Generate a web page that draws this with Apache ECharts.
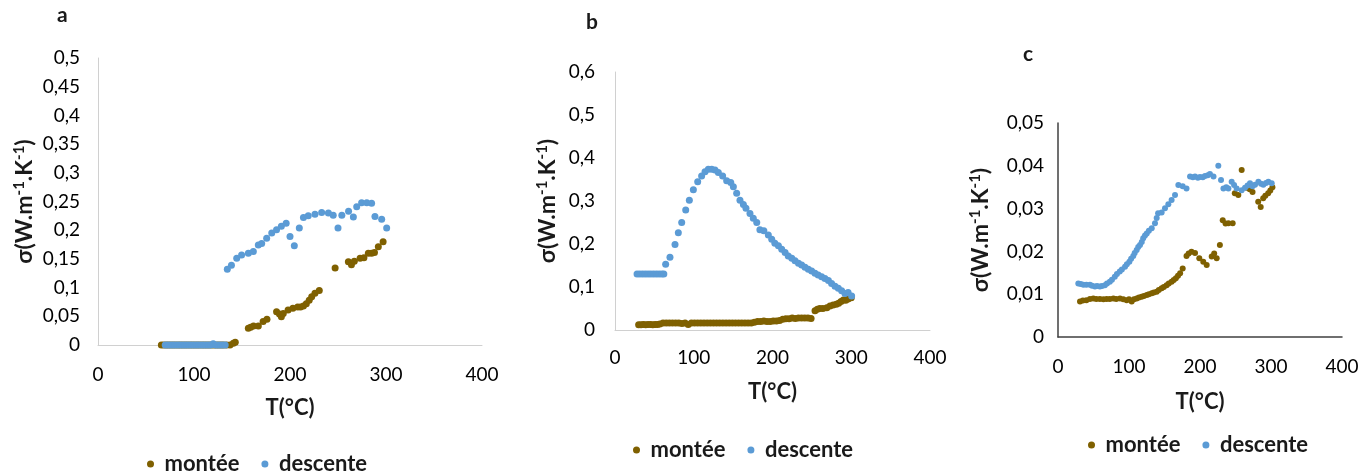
<!DOCTYPE html>
<html>
<head>
<meta charset="utf-8">
<script src="https://cdn.jsdelivr.net/npm/echarts@6/dist/echarts.min.js"></script>
<style>
  html, body { margin: 0; padding: 0; background: #fff; }
  #main { width: 1370px; height: 475px; }
</style>
</head>
<body>
<div id="main"></div>
<script>
// --- data: [T (°C), sigma (W.m-1.K-1)] ---
var xTicks = [0, 100, 200, 300, 400];

var aMontee = [
  [66,0],[68.5,0],[71,0],[73.5,0],[76,0],[78.5,0],[81,0],[83.5,0],[86,0],[88.5,0],[91,0],[93.5,0],
  [96,0],[98.5,0],[101,0],[103.5,0],[106,0],[108.5,0],[111,0],[113.5,0],[116,0],[118.5,0],[121,0],
  [123.5,0],[126,0],[128.5,0],[131,0],[134,0],[137.5,0],[141,0.003],[143,0.005],
  [156.6,0.029],[159,0.031],[162,0.033],[167,0.033],[172,0.041],[176,0.045],[186,0.058],[189,0.054],
  [191,0.049],[193,0.055],[198,0.061],[203,0.064],[208,0.066],[211,0.066],[214,0.068],[217,0.072],
  [220,0.078],[222.6,0.084],[226,0.09],[230.5,0.095],[247,0.134],[260.8,0.145],[264,0.14],[267,0.146],
  [273,0.151],[277,0.152],[281.6,0.16],[285,0.16],[288,0.161],[292,0.171],[297,0.18]
];
var aDescente = [
  [70,0],[72.5,0],[75,0],[77.5,0],[80,0],[82.5,0],[85,0],[87.5,0],[90,0],[92.5,0],[95,0],[97.5,0],
  [100,0],[102.5,0],[105,0],[107.5,0],[110,0],[112.5,0],[115,0],[117.5,0],[120,0.002],[122.5,0],
  [125,0],[127.5,0],[130,0],[132.5,0],[134.7,0.132],[139,0.139],[144.5,0.151],[149.6,0.157],
  [156.6,0.16],[161.8,0.163],[167,0.174],[170.5,0.177],[175.7,0.186],[181,0.195],[186,0.201],
  [191,0.207],[196,0.212],[200,0.189],[204.5,0.173],[209.7,0.204],[214,0.222],[219,0.225],
  [226,0.228],[233,0.231],[240,0.23],[245,0.226],[250,0.204],[254,0.226],[261,0.233],[266,0.223],
  [269.5,0.241],[274.6,0.248],[280,0.248],[285,0.247],[288.5,0.224],[295.5,0.219],[300.7,0.204]
];

var bMontee = [
  [30,0.012],[33,0.012],[36,0.013],[39,0.012],[42,0.013],[45,0.013],[48,0.012],[51,0.013],[54,0.013],
  [57,0.014],[61,0.016],[65,0.016],[69,0.016],[73,0.016],[77,0.016],[81,0.016],[85,0.015],[89,0.016],
  [93,0.013],[97,0.016],[101,0.016],[105,0.016],[109,0.016],[113,0.016],[117,0.016],[121,0.016],
  [125,0.016],[129,0.016],[133,0.016],[137,0.016],[141,0.016],[145,0.016],[149,0.016],[153,0.016],
  [157,0.016],[161,0.016],[165,0.016],[169,0.016],[173,0.016],[177,0.018],[181,0.02],[185,0.02],
  [189,0.021],[193,0.02],[197,0.02],[201,0.021],[205,0.021],[209,0.022],[213,0.025],[217,0.026],
  [221,0.026],[225,0.028],[229,0.027],[233,0.028],[237,0.028],[241,0.028],[245,0.028],[249,0.027],
  [254,0.045],[257,0.048],[260,0.05],[264,0.05],[269,0.052],[273,0.056],[277,0.058],[281,0.06],
  [284,0.062],[287,0.066],[290,0.07],[293,0.069],[296,0.072],[300,0.075]
];
var bDescente = [
  [28,0.13],[31.5,0.13],[35,0.13],[38.5,0.13],[42,0.13],[45.5,0.13],[49,0.13],[52.5,0.13],[56,0.13],
  [59.5,0.13],[62,0.13],[64.3,0.153],[69.8,0.169],[76.2,0.199],[80.4,0.226],[84.7,0.25],[89.8,0.279],
  [94.4,0.302],[99.5,0.326],[105,0.345],[110,0.358],[114.3,0.368],[118.5,0.374],[122.8,0.374],
  [127,0.372],[131.2,0.366],[136.7,0.358],[141.8,0.347],[147,0.343],[150.3,0.333],[154.5,0.318],
  [158.7,0.302],[163,0.292],[166.3,0.283],[171.4,0.271],[175.6,0.26],[180,0.25],[184,0.233],
  [189,0.231],[194.7,0.221],[199,0.211],[203,0.202],[207.5,0.196],[211.7,0.188],[216,0.18],
  [220,0.172],[224.5,0.167],[228.6,0.161],[233,0.155],[237,0.151],[241.3,0.146],[245.5,0.141],
  [249.7,0.137],[254,0.132],[258,0.128],[262.4,0.124],[266.6,0.12],[271,0.115],[275,0.108],
  [279.4,0.102],[283.6,0.097],[287.8,0.091],[292,0.085],[296,0.087],[300.5,0.079]
];

var cMontee = [
  [31,0.0083],[35,0.0085],[40,0.0086],[45,0.0089],[49.7,0.009],[54,0.0089],[59,0.0089],[64,0.0088],
  [68.5,0.0089],[73,0.0089],[78,0.009],[82,0.0089],[87.3,0.009],[92,0.0088],[96.7,0.0086],
  [100,0.0088],[103.8,0.0083],[107,0.0088],[110.8,0.009],[114,0.0092],[117.8,0.0094],[121,0.0096],
  [125,0.0098],[128,0.01],[132,0.0102],[135,0.0104],[139,0.0106],[142,0.011],[146,0.0114],
  [149,0.0117],[153,0.0121],[156,0.0125],[160,0.0129],[163,0.0133],[166,0.0137],[169,0.0143],
  [172,0.0149],[175.6,0.016],[181,0.0189],[184,0.0195],[188,0.0199],[193,0.0196],[199,0.0184],
  [204.6,0.0176],[209.4,0.0168],[216.5,0.0188],[220,0.0195],[223.5,0.0184],[228,0.0215],
  [232,0.0273],[236,0.0265],[240,0.0266],[246,0.0266],[249,0.0336],[254,0.0332],[258.7,0.039],
  [265.7,0.0349],[270,0.0345],[274,0.0339],[282,0.0316],[285.5,0.0304],[289,0.0324],[292,0.033],
  [296,0.0336],[299,0.0342],[302,0.035]
];
var cDescente = [
  [28.6,0.0125],[32,0.0124],[35.7,0.0122],[40,0.0122],[45,0.0122],[48,0.012],[52,0.0118],
  [55,0.0119],[59,0.0118],[62,0.0119],[66,0.0121],[69,0.0125],[73,0.0129],[76,0.0134],[80,0.0141],
  [83,0.0147],[87,0.0153],[90,0.0158],[94.4,0.0164],[97,0.017],[100.5,0.0176],[103,0.0183],
  [106,0.0189],[108,0.0196],[110.8,0.0203],[113,0.021],[115.5,0.0215],[118,0.0222],[120,0.0231],
  [122.5,0.0237],[125,0.0242],[128,0.0248],[132,0.0254],[136.6,0.0266],[139,0.0278],[141,0.0289],
  [146,0.0291],[150.7,0.0301],[155.4,0.031],[160,0.032],[164.8,0.0332],[169.5,0.0355],
  [175.6,0.0352],[181,0.0347],[186,0.0375],[190,0.0373],[193,0.0375],[197,0.0372],[200,0.0374],
  [204,0.0373],[207,0.0376],[211,0.0378],[214,0.0381],[219,0.0375],[225.8,0.04],[229.6,0.0367],
  [233,0.0347],[237,0.035],[240,0.0347],[244.6,0.0363],[248,0.0355],[251.6,0.0347],[258.7,0.0343],
  [263.4,0.0349],[267,0.0354],[270.4,0.0359],[274,0.0352],[277.5,0.0356],[282.2,0.0363],
  [286,0.0358],[289.2,0.0356],[293,0.036],[296.3,0.0363],[301,0.0359]
];

var colMontee = '#7f6000';
var colDescente = '#5b9bd5';
var FONT = 'Lato, "Liberation Sans", sans-serif';

function fmtComma(v) {
  return String(+v.toFixed(4)).replace('.', ',');
}

function xAxisFor(idx, lineColor, labelMargin, nameGap) {
  return {
    gridIndex: idx, type: 'value', min: 0, max: 400, interval: 100,
    name: 'T(°C)', nameLocation: 'middle', nameGap: nameGap,
    nameTextStyle: { fontFamily: FONT, fontSize: 22, fontWeight: 'bold', color: '#1a1a1a' },
    axisLine: { show: true, onZero: false, lineStyle: { color: lineColor, width: idx === 2 ? 1.5 : 1 } },
    axisTick: { show: false },
    splitLine: { show: false },
    axisLabel: { margin: labelMargin, fontFamily: FONT, fontSize: 19, color: '#000',
      formatter: function (v) { return xTicks.indexOf(v) >= 0 ? String(v) : ''; } }
  };
}

function yAxisFor(idx, max, interval, lineColor, labelMargin, nameGap) {
  return {
    gridIndex: idx, type: 'value', min: 0, max: max, interval: interval,
    name: 'σ(W.m{s|-1}.K{s|-1})', nameLocation: 'middle', nameRotate: 90, nameGap: nameGap,
    nameTextStyle: {
      fontFamily: FONT, fontSize: 23, fontWeight: 'bold', color: '#1a1a1a', lineHeight: 26,
      rich: { s: { fontFamily: FONT, fontSize: 15, fontWeight: 'bold', color: '#1a1a1a', verticalAlign: 'top', lineHeight: 26, padding: [0, 0, 8, 0] } }
    },
    axisLine: { show: true, lineStyle: { color: lineColor, width: idx === 2 ? 1.5 : 1 } },
    axisTick: { show: false },
    splitLine: { show: false },
    axisLabel: { margin: labelMargin, fontFamily: FONT, fontSize: 19, color: '#000', formatter: fmtComma }
  };
}

function legendFor(left, top) {
  return {
    left: left, top: top, orient: 'horizontal',
    icon: 'circle', itemWidth: 14, itemHeight: 7, itemGap: 22,
    textStyle: { fontFamily: FONT, fontSize: 22, fontWeight: 'bold', color: '#1a1a1a', padding: [0, 0, 0, 2] },
    data: ['montée', 'descente'],
    selectedMode: false
  };
}

function scatter(name, idx, data, color, size) {
  return {
    name: name, type: 'scatter', xAxisIndex: idx, yAxisIndex: idx,
    data: data, symbolSize: size, itemStyle: { color: color, opacity: 1 },
    emphasis: { disabled: true }
  };
}

var myChart = echarts.init(document.getElementById('main'));

var option = {
  backgroundColor: '#ffffff',
  animation: false,
  title: [
    { text: 'a', left: 52, top: 0, textStyle: { fontFamily: FONT, fontSize: 21, fontWeight: 'bold', color: '#1a1a1a' } },
    { text: 'b', left: 581, top: 7, textStyle: { fontFamily: FONT, fontSize: 21, fontWeight: 'bold', color: '#1a1a1a' } },
    { text: 'c', left: 1018, top: 39, textStyle: { fontFamily: FONT, fontSize: 21, fontWeight: 'bold', color: '#1a1a1a' } }
  ],
  grid: [
    { left: 98, top: 58, width: 384, height: 287 },
    { left: 615, top: 72, width: 315, height: 258 },
    { left: 1058, top: 123, width: 284, height: 214 }
  ],
  xAxis: [
    xAxisFor(0, '#d0d0d0', 20, 52),
    xAxisFor(1, '#d0d0d0', 18, 51),
    xAxisFor(2, '#404040', 20, 54)
  ],
  yAxis: [
    yAxisFor(0, 0.5, 0.05, '#d0d0d0', 18, 60),
    yAxisFor(1, 0.6, 0.1, '#d0d0d0', 20, 54),
    yAxisFor(2, 0.05, 0.01, '#404040', 14, 64)
  ],
  legend: [
    legendFor(142, 448),
    legendFor(628, 434),
    legendFor(1083, 429)
  ],
  series: [
    scatter('montée', 0, aMontee, colMontee, 7),
    scatter('descente', 0, aDescente, colDescente, 7),
    scatter('montée', 1, bMontee, colMontee, 7),
    scatter('descente', 1, bDescente, colDescente, 7),
    scatter('montée', 2, cMontee, colMontee, 6),
    scatter('descente', 2, cDescente, colDescente, 6)
  ]
};

myChart.setOption(option);

window.onresize = function () {
  myChart.resize();
};
</script>
</body>
</html>
